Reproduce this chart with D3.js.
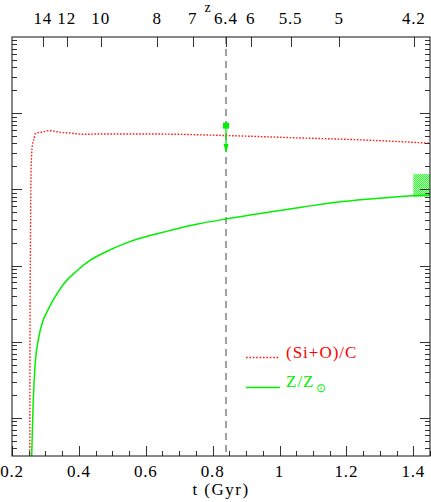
<!DOCTYPE html>
<html><head><meta charset="utf-8">
<script src="https://cdn.jsdelivr.net/npm/d3@7"></script>
<style>body{margin:0;background:#fff}svg{display:block}text{font-family:"Liberation Serif","Times New Roman",serif}</style>
</head><body>
<script>
// ---- data ----
const ratioT = [0.2532,0.2538,0.2553,0.2562,0.2589,0.2628,0.2657,0.2687,0.2786,0.2935,0.3085,0.3187,0.3336,0.3533,0.3733,0.3973,0.4233,0.4531,0.6124,0.8396,1.0608,1.2102,1.3596,1.4493];
const ratioV = [0.00025,0.0106,0.217,0.982,3.01,4.19,4.58,5.33,5.55,5.66,5.89,5.89,5.71,5.55,5.50,5.33,5.28,5.33,5.33,5.09,4.73,4.52,4.23,4.03];
const metT = [0.2578,0.2607,0.2637,0.2687,0.2786,0.2935,0.3046,0.3234,0.3533,0.3934,0.4331,0.4831,0.5327,0.5826,0.6522,0.7520,0.8396,0.9711,1.0706,1.1704,1.2699,1.3994,1.4493];
const metV = [0.0002,0.00063,0.00172,0.00471,0.0106,0.0193,0.0246,0.0354,0.0565,0.0849,0.1167,0.1531,0.191,0.228,0.274,0.348,0.409,0.505,0.587,0.678,0.748,0.826,0.845];
const zLabels = ["14","12","10","8","7","6.4","6","5.5","5","4.2"];
const zTimes  = [0.2918,0.3635,0.4651,0.6343,0.7400,0.8396,0.9134,1.0329,1.1782,1.4014];
const xTickLabels = [0.2,0.4,0.6,0.8,1,1.2,1.4];
const markT = 0.84, markV = 6.86, arrowTipV = 3.0;
const boxT = [1.4, 1.45], boxV = [0.80, 1.59];
const legendNames = ["(Si+O)/C", "Z/Z"];

// ---- layout ----
const W = 431, H = 502;
const L = 12, R = 430, T = 37, B = 456;
const GREEN = "#00f000", RED = "#ff1a1a";
const x = d3.scaleLinear().domain([0.2, 1.45]).range([L, R]);
const y = d3.scaleLog().domain([Math.pow(10,-3.5), 100]).range([B, T]);

const svg = d3.select("body").append("svg").attr("width", W).attr("height", H);
const defs = svg.append("defs");
defs.append("clipPath").attr("id","clip").append("rect").attr("x",L).attr("y",T).attr("width",R-L).attr("height",B-T);
const pat = defs.append("pattern").attr("id","hatch").attr("width",2).attr("height",2).attr("patternUnits","userSpaceOnUse");
pat.append("rect").attr("width",2).attr("height",2).attr("fill","#b8ffb8");
pat.append("rect").attr("width",1).attr("height",1).attr("fill","#33ff33");
pat.append("rect").attr("x",1).attr("y",1).attr("width",1).attr("height",1).attr("fill","#33ff33");

const plot = svg.append("g").attr("clip-path","url(#clip)");

// dashed vertical line
plot.append("line").attr("x1",x(markT)).attr("x2",x(markT)).attr("y1",T).attr("y2",B)
  .attr("stroke","#8a8a8a").attr("stroke-width",1.6).attr("stroke-dasharray","7,5");

// hatched box
plot.append("rect").attr("x",x(boxT[0])).attr("y",y(boxV[1]))
  .attr("width",x(boxT[1])-x(boxT[0])).attr("height",y(boxV[0])-y(boxV[1]))
  .attr("fill","url(#hatch)");

const line = d3.line().x(d=>x(d[0])).y(d=>y(d[1])).curve(d3.curveMonotoneX);
plot.append("path").datum(ratioT.map((t,i)=>[t,ratioV[i]])).attr("d",line)
  .attr("fill","none").attr("stroke",RED).attr("stroke-width",1.4).attr("stroke-dasharray","1.6,1.6");
plot.append("path").datum(metT.map((t,i)=>[t,metV[i]])).attr("d",line)
  .attr("fill","none").attr("stroke",GREEN).attr("stroke-width",1.5);

// marker + arrow
const mx = x(markT), my = y(markV), ty = y(arrowTipV);
plot.append("rect").attr("x",mx-3).attr("y",my-3).attr("width",6).attr("height",6).attr("fill",GREEN);
plot.append("line").attr("x1",mx).attr("x2",mx).attr("y1",my).attr("y2",ty-6).attr("stroke",GREEN).attr("stroke-width",1.3);
plot.append("path").attr("d",`M${mx-2.5},${ty-9}L${mx+2.5},${ty-9}L${mx},${ty}Z`).attr("fill",GREEN);

// ---- axes ticks ----
const tk = svg.append("g").attr("stroke","#333").attr("stroke-width",1);
d3.range(0.2, 1.451, 0.05).forEach(v=>{
  const major = Math.abs(v*5 - Math.round(v*5)) < 1e-6;
  const xx = Math.round(x(v))+0.5, len = major?10:5;
  tk.append("line").attr("x1",xx).attr("x2",xx).attr("y1",B).attr("y2",B-len);
});
zTimes.forEach(t=>{
  const xx = Math.round(x(t))+0.5;
  tk.append("line").attr("x1",xx).attr("x2",xx).attr("y1",T).attr("y2",T+10);
});
y.ticks().forEach(v=>{
  const lg = Math.log10(v);
  const major = Math.abs(lg-Math.round(lg))<1e-6;
  const yy = Math.round(y(v))+0.5, len = major?10:5;
  if (yy < T+1 || yy > B-1) return;
  tk.append("line").attr("x1",L).attr("x2",L+len).attr("y1",yy).attr("y2",yy);
  tk.append("line").attr("x1",R).attr("x2",R-len).attr("y1",yy).attr("y2",yy);
});
svg.append("rect").attr("x",L).attr("y",T).attr("width",R-L).attr("height",B-T)
  .attr("fill","none").attr("stroke","#111").attr("stroke-width",1);

// ---- labels ----
const bl = svg.append("g").attr("font-size",17).attr("fill","#000").attr("text-anchor","middle").attr("letter-spacing",0.8);
xTickLabels.forEach(v=>{
  const t = bl.append("text").attr("x",x(v)).attr("y",477).text(d3.format("~g")(v));
  const w = t.node().getComputedTextLength();
  if (x(v) - w/2 < 0) t.attr("x", w/2 - 1);
});
zLabels.forEach((s,i)=>{
  bl.append("text").attr("x",x(zTimes[i])).attr("y",23.5).text(s);
});
svg.append("text").attr("x",221).attr("y",495).attr("text-anchor","middle").attr("font-size",17).attr("letter-spacing",1.5).text("t (Gyr)");
svg.append("text").attr("x",207.5).attr("y",12).attr("text-anchor","middle").attr("font-size",14).text("z");

// ---- legend ----
svg.append("line").attr("x1",246).attr("x2",279).attr("y1",357.5).attr("y2",357.5)
  .attr("stroke",RED).attr("stroke-width",1.3).attr("stroke-dasharray","1.6,1.8");
svg.append("text").attr("x",286).attr("y",358).attr("font-size",17).attr("letter-spacing",1).attr("fill","#ff0000").text(legendNames[0]);
svg.append("line").attr("x1",246).attr("x2",280).attr("y1",387.5).attr("y2",387.5)
  .attr("stroke",GREEN).attr("stroke-width",1.5);
const zt = svg.append("text").attr("x",286).attr("y",387).attr("font-size",17).attr("letter-spacing",1).attr("fill",GREEN).text(legendNames[1]);
zt.append("tspan").attr("font-size",12).attr("dy",5).attr("dx",1).text("\u2299");
</script>
</body></html>
